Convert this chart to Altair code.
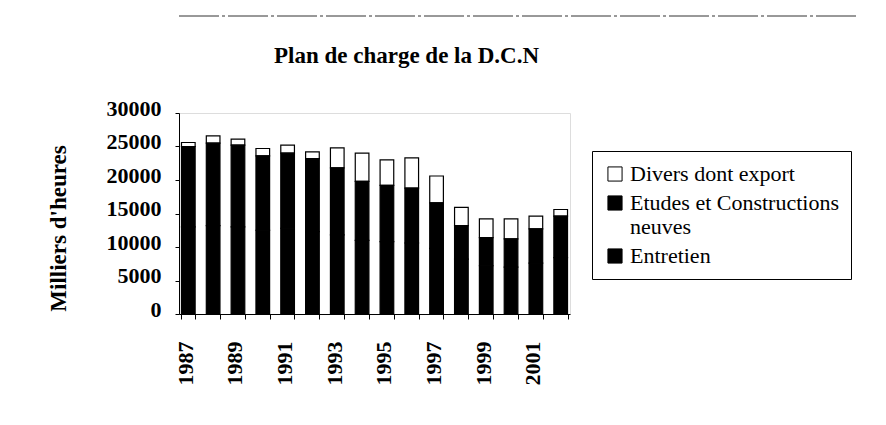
import altair as alt
import pandas as pd

years = list(range(1987, 2003))
divers = [600, 1100, 900, 1100, 1200, 1000, 3000, 4200, 3800, 4500, 4000, 2700, 2800, 3000, 1900, 1000]
etudes = [12000, 12300, 12200, 11100, 11200, 10900, 10000, 8800, 8400, 8200, 6800, 5000, 4200, 4200, 5100, 6200]
entretien = [13000, 13200, 13000, 12500, 12800, 12300, 11800, 11000, 10800, 10600, 9800, 8200, 7200, 7000, 7600, 8400]

series = ["Divers dont export", "Etudes et Constructions neuves", "Entretien"]
ranks = {"Entretien": 0, "Etudes et Constructions neuves": 1, "Divers dont export": 2}

rows = []
for i, y in enumerate(years):
    for name, vals in zip(series, [divers, etudes, entretien]):
        rows.append({"annee": y, "serie": name, "valeur": vals[i], "rang": ranks[name]})
df = pd.DataFrame(rows)

FONT = "Liberation Serif"

bars = alt.Chart(df).mark_bar(stroke="black", strokeWidth=1.2).encode(
    x=alt.X("annee:O", title=None,
            scale=alt.Scale(paddingInner=0.45, paddingOuter=0.1),
            axis=alt.Axis(labelAngle=-90, labelFont=FONT, labelFontWeight="bold",
                          labelFontSize=22, labelColor="black", labelPadding=22,
                          labelExpr="datum.value % 2 == 1 ? datum.label : ''",
                          tickBand="extent", tickColor="black", tickSize=5,
                          domainColor="black", labelOffset=-3)),
    y=alt.Y("valeur:Q", stack="zero", title="Milliers d'heures",
            scale=alt.Scale(domain=[0, 30000], nice=False),
            axis=alt.Axis(values=[0, 5000, 10000, 15000, 20000, 25000, 30000], format="d",
                          grid=False, labelFont=FONT, labelFontWeight="bold", labelFontSize=22,
                          labelColor="black", labelPadding=14, tickColor="black", tickSize=4,
                          domainColor="black", titleFont=FONT, titleFontWeight="bold",
                          titleFontSize=23, titleColor="black", titleX=-109, titleY=115,
                          labelOffset=-5)),
    fill=alt.Fill("serie:N",
                  scale=alt.Scale(domain=series, range=["white", "black", "black"]),
                  legend=alt.Legend(title=None, orient="none", legendX=413, legendY=38,
                                    direction="vertical", strokeColor="black", padding=12,
                                    symbolType="square", symbolSize=200, symbolStrokeColor="black",
                                    symbolStrokeWidth=1, labelFont=FONT, labelFontSize=22,
                                    labelColor="black", labelLimit=400, rowPadding=7,
                                    labelExpr="datum.label == 'Etudes et Constructions neuves' ? ['Etudes et Constructions', 'neuves'] : datum.label")),
    order=alt.Order("rang:Q", sort="ascending"),
)

deco = pd.DataFrame({"k": [0]})
left_line = alt.Chart(deco).mark_rule(color="black", strokeWidth=1, strokeDash=[30, 3]).encode(
    x=alt.value(-174), y=alt.value(-113), y2=alt.value(290))
top_line = alt.Chart(deco).mark_rule(color="#333333", strokeWidth=1, strokeDash=[40, 3, 3, 3]).encode(
    x=alt.value(0), x2=alt.value(680), y=alt.value(-97))

chart = alt.layer(bars, left_line, top_line).properties(
    width=391, height=201,
    title=alt.TitleParams("Plan de charge de la D.C.N", font=FONT, fontWeight="bold",
                          fontSize=23, color="black", anchor="middle", offset=-68, dx=32),
    padding={"left": 171, "top": 105, "right": 300, "bottom": 90},
    autosize=alt.AutoSizeParams(type="none"),
).configure_view(stroke="black", strokeWidth=1).configure(background="white")

chart.save("out.html", embed_options={"renderer": "svg", "actions": False})
